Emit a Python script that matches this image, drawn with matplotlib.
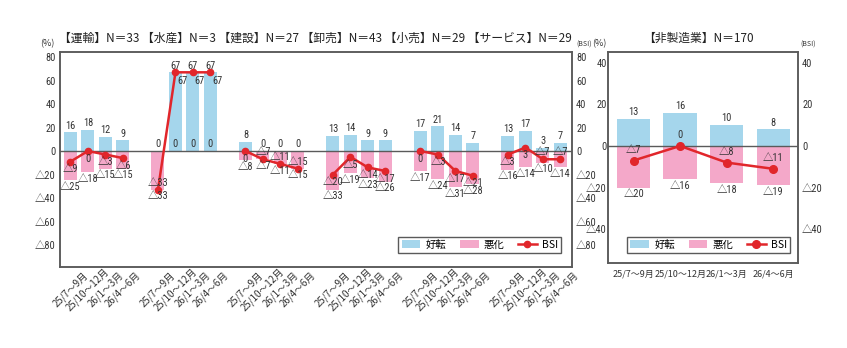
import matplotlib.pyplot as plt
import numpy as np
from matplotlib import font_manager
from matplotlib.patches import Patch
from matplotlib.lines import Line2D

plt.rcParams['font.family'] = ['Noto Sans CJK JP', 'DejaVu Sans']

# 数値ラベル用の細めのフォント (無ければ通常のゴシック)
_avail = {f.name for f in font_manager.fontManager.ttflist}
_narrow = [f for f in ['Liberation Sans Narrow', 'Roboto Condensed', 'DejaVu Sans Condensed']
           if f in _avail]
if _narrow:
    num_family = _narrow[:1] + ['DejaVu Sans Condensed', 'Noto Sans CJK JP', 'DejaVu Sans']
else:
    num_family = ['Noto Sans CJK JP', 'DejaVu Sans']

# 期間・業種
periods = ['25/7～9月', '25/10～12月', '26/1～3月', '26/4～6月']
industries = ['運輸', '水産', '建設', '卸売', '小売', 'サービス']
counts = [33, 3, 27, 43, 29, 29]

# 業種別 (好転, 悪化, BSI)
improved = [[16, 18, 12, 9], [0, 67, 67, 67], [8, 0, 0, 0],
            [13, 14, 9, 9], [17, 21, 14, 7], [13, 17, 3, 7]]
worsened = [[-25, -18, -15, -15], [-33, 0, 0, 0], [-8, -7, -11, -15],
            [-33, -19, -23, -26], [-17, -24, -31, -28], [-16, -14, -10, -14]]
bsi = [[-9, 0, -3, -6], [-33, 67, 67, 67], [0, -7, -11, -15],
       [-20, -5, -14, -17], [0, -3, -17, -21], [-3, 3, -7, -7]]

# 非製造業 計
total_n = 170
total_improved = [13, 16, 10, 8]
total_worsened = [-20, -16, -18, -19]
total_bsi = [-7, 0, -8, -11]

# BSIラベルの置き場所 (b:下, a:上, r:右下)
bsi_label_side = ['bbbb', 'arrr', 'baaa', 'bbbb', 'bbbb', 'bbaa']
side_offset = {'b': (0, -5.5), 'a': (0, 5), 'r': (5, -6.5)}

blue = '#a5d6ec'
pink = '#f4a8c9'
red = '#e1262b'
frame = '#5a5a5a'
txt = '#333333'
NUM = 7.5


def fmt(v):
    return '△' + str(-v) if v < 0 else str(v)


def label(a, v, xy, dx, dy, va, z=5):
    a.annotate(fmt(v), xy, xytext=(dx, dy), textcoords='offset points', ha='center',
               va=va, fontsize=NUM, color=txt, family=num_family, zorder=z)


def legend_handles(ms):
    return [Patch(facecolor=blue, label='好転'),
            Patch(facecolor=pink, label='悪化'),
            Line2D([], [], color=red, lw=1.8, marker='o', ms=ms, label='BSI')]


def style_axes(a, pad):
    for s in a.spines.values():
        s.set_color(frame)
        s.set_linewidth(1.1)
    a.tick_params(axis='y', length=0, pad=pad, labelsize=NUM, colors=txt)
    for t in a.get_yticklabels():
        t.set_family(num_family)


fig = plt.figure(figsize=(8.47, 3.48), dpi=100)
fig.patch.set_facecolor('white')

# ---- 業種別パネル ----
ax = fig.add_axes([0.0708, 0.2328, 0.6045, 0.6178])
x = np.concatenate([np.arange(4) + g * 5 for g in range(len(industries))])
ax.bar(x, np.concatenate(improved), width=0.74, color=blue, zorder=2)
ax.bar(x, np.concatenate(worsened), width=0.74, color=pink, zorder=2)
ax.axhline(0, color=frame, lw=1, zorder=3)

for g in range(len(industries)):
    xs = x[g * 4:(g + 1) * 4]
    ax.plot(xs, bsi[g], color=red, lw=1.8, marker='o', ms=4.5, zorder=4)
    for xi, u, d, b, s in zip(xs, improved[g], worsened[g], bsi[g], bsi_label_side[g]):
        label(ax, u, (xi, u), 0, 1.2, 'bottom')
        if d == 0:
            label(ax, d, (xi, 0), 0, 1.2, 'bottom')
        else:
            label(ax, d, (xi, d), 0, -1.2, 'top')
        dx, dy = side_offset[s]
        label(ax, b, (xi, b), dx, dy, 'center')

ax.set_xlim(-0.6, 28.66)
ax.set_ylim(-98.7, 84.3)
yt = [-80, -60, -40, -20, 0, 20, 40, 60, 80]
ax.set_yticks(yt)
ax.set_yticklabels([fmt(v) for v in yt])
ax.set_xticks(x)
ax.set_xticklabels(periods * len(industries), rotation=45, ha='center', va='center')
ax.tick_params(axis='x', length=0, pad=16, labelsize=7, colors=txt)
style_axes(ax, 3)

ax2 = ax.twinx()
ax2.set_ylim(ax.get_ylim())
ax2.set_yticks(yt)
ax2.set_yticklabels([fmt(v) for v in yt])
style_axes(ax2, 3)

leg = ax.legend(handles=legend_handles(4.5), ncol=3, loc='lower right',
                bbox_to_anchor=(0.979, 0.065), fontsize=7.5, fancybox=False,
                edgecolor=frame, framealpha=1, borderpad=0.3, handlelength=1.8,
                handleheight=0.8, columnspacing=1.3, handletextpad=0.5,
                borderaxespad=0)
leg.get_frame().set_linewidth(1)
leg.set_zorder(6)

title = ' '.join('【%s】N＝%d' % (n, c) for n, c in zip(industries, counts))
fig.text(0.372, 0.889, title, ha='center', va='center', fontsize=8.5, color='#222222')
fig.text(47 / 847, 1 - 44 / 348, '(%)', ha='center', va='center', fontsize=6.5, color=txt)
fig.text(592 / 847, 1 - 45 / 348, '(BSI)', ha='right', va='center', fontsize=5, color=txt)
fig.text(592 / 847, 1 - 44 / 348, '(%)', ha='left', va='center', fontsize=6.5, color=txt)

# ---- 非製造業 計 ----
ax3 = fig.add_axes([0.7178, 0.2443, 0.2243, 0.6063])
xr = np.arange(len(periods))
ax3.bar(xr, total_improved, width=0.72, color=blue, zorder=2)
ax3.bar(xr, total_worsened, width=0.72, color=pink, zorder=2)
ax3.axhline(0, color=frame, lw=1, zorder=3)
ax3.plot(xr, total_bsi, color=red, lw=1.8, marker='o', ms=5.5, zorder=4)
for xi, u, d, b in zip(xr, total_improved, total_worsened, total_bsi):
    label(ax3, u, (xi, u), 0, 1.2, 'bottom')
    label(ax3, d, (xi, d), 0, -1.2, 'top')
    label(ax3, b, (xi, b), 0, 4, 'bottom')

ax3.set_xlim(-0.55, 3.53)
ax3.set_ylim(-56.3, 45.2)
yt3 = [-40, -20, 0, 20, 40]
ax3.set_yticks(yt3)
ax3.set_yticklabels([fmt(v) for v in yt3])
ax3.set_xticks(xr)
ax3.set_xticklabels(periods)
ax3.tick_params(axis='x', length=0, pad=5, labelsize=6.5, colors=txt)
style_axes(ax3, 1)

ax4 = ax3.twinx()
ax4.set_ylim(ax3.get_ylim())
ax4.set_yticks(yt3)
ax4.set_yticklabels([fmt(v) for v in yt3])
style_axes(ax4, 3)

leg3 = ax3.legend(handles=legend_handles(5.5), ncol=3, loc='lower center',
                  bbox_to_anchor=(0.53, 0.047), fontsize=7.5, fancybox=False,
                  edgecolor=frame, framealpha=1, borderpad=0.3, handlelength=1.8,
                  handleheight=0.8, columnspacing=1.3, handletextpad=0.5,
                  borderaxespad=0)
leg3.get_frame().set_linewidth(1)
leg3.set_zorder(6)

fig.text(698.5 / 847, 0.889, '【非製造業】N＝%d' % total_n, ha='center', va='center',
         fontsize=8.5, color='#222222')
fig.text(808 / 847, 1 - 45 / 348, '(BSI)', ha='center', va='center', fontsize=5, color=txt)

fig.savefig('out.png', dpi=100)
